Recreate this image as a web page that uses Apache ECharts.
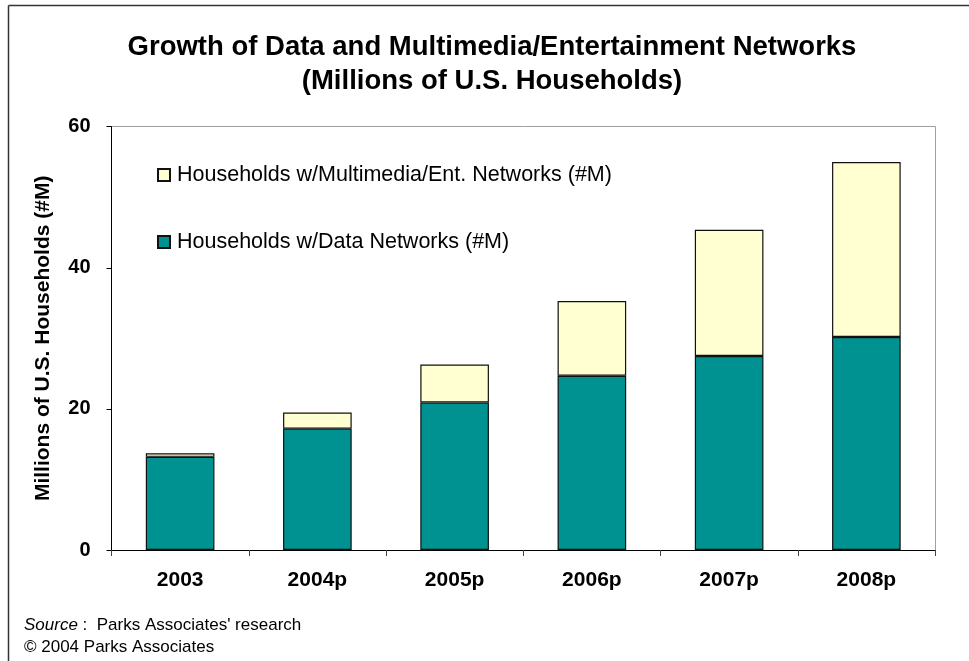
<!DOCTYPE html>
<html>
<head>
<meta charset="utf-8">
<script src="https://cdn.jsdelivr.net/npm/echarts@6/dist/echarts.min.js"></script>
<style>
  html, body { margin: 0; padding: 0; background: #fff; }
  #chart { width: 969px; height: 661px; }
</style>
</head>
<body>
<div id="chart"></div>
<script>
// values (millions of households)
var years = ['2003', '2004p', '2005p', '2006p', '2007p', '2008p'];
var dataNetworks = [13.2, 17.2, 20.9, 24.7, 27.5, 30.2];
var multimediaNetworks = [0.5, 2.3, 5.4, 10.6, 17.9, 24.8];
var yTicks = [0, 20, 40, 60];

var font = 'Liberation Sans, Arial, sans-serif';
var chart = echarts.init(document.getElementById('chart'));

chart.setOption({
  animation: false,
  backgroundColor: '#fff',
  title: {
    text: 'Growth of Data and Multimedia/Entertainment Networks\n(Millions of U.S. Households)',
    left: 487,
    top: 25,
    textAlign: 'center',
    textStyle: { fontFamily: font, fontSize: 27.5, fontWeight: 'bold', color: '#000', lineHeight: 34 }
  },
  legend: {
    orient: 'vertical',
    left: 152,
    top: 159,
    itemGap: 45,
    itemWidth: 12,
    itemHeight: 12,
    icon: 'rect',
    data: ['Households w/Multimedia/Ent. Networks (#M)', 'Households w/Data Networks (#M)'],
    textStyle: { fontFamily: font, fontSize: 21.5, color: '#000', padding: [0, 0, 0, 2] }
  },
  grid: { left: 111.5, right: 34, top: 126.7, bottom: 111, containLabel: false },
  xAxis: {
    type: 'category',
    data: years,
    axisLine: { lineStyle: { color: '#000', width: 1 } },
    axisTick: { show: true, length: 6, lineStyle: { color: '#444' } },
    axisLabel: { fontFamily: font, fontSize: 21, fontWeight: 'bold', color: '#000', margin: 20 }
  },
  yAxis: {
    type: 'value',
    min: yTicks[0],
    max: yTicks[yTicks.length - 1],
    interval: 20,
    name: 'Millions of U.S. Households (#M)',
    nameLocation: 'middle',
    nameGap: 58,
    nameTextStyle: { fontFamily: font, fontSize: 21, fontWeight: 'bold', color: '#000' },
    axisLine: { show: true, lineStyle: { color: '#000', width: 1 } },
    axisTick: { show: true, length: 5, lineStyle: { color: '#000' } },
    axisLabel: { fontFamily: font, fontSize: 20, fontWeight: 'bold', color: '#000', margin: 21 },
    splitLine: { show: false }
  },
  series: [
    {
      name: 'Households w/Data Networks (#M)',
      type: 'bar',
      stack: 'total',
      barWidth: '50%',
      data: dataNetworks,
      itemStyle: { color: '#009191', borderColor: '#111', borderWidth: 1.2 }
    },
    {
      name: 'Households w/Multimedia/Ent. Networks (#M)',
      type: 'bar',
      stack: 'total',
      barWidth: '50%',
      data: multimediaNetworks,
      itemStyle: { color: '#ffffd2', borderColor: '#111', borderWidth: 1.2 }
    }
  ],
  graphic: [
    // outer frame (left and top edges)
    { type: 'line', shape: { x1: 8.5, y1: 5.5, x2: 8.5, y2: 661 }, style: { stroke: '#333', lineWidth: 1.5 } },
    { type: 'line', shape: { x1: 8.5, y1: 5.5, x2: 969, y2: 5.5 }, style: { stroke: '#333', lineWidth: 1.5 } },
    // plot area top and right borders
    { type: 'line', shape: { x1: 111.5, y1: 126.5, x2: 935.5, y2: 126.5 }, style: { stroke: '#a0a0a0', lineWidth: 1 } },
    { type: 'line', shape: { x1: 935.5, y1: 126.5, x2: 935.5, y2: 550 }, style: { stroke: '#a0a0a0', lineWidth: 1 } },
    {
      type: 'text', left: 24, top: 617,
      style: {
        text: '{i|Source} :  Parks Associates\' research',
        font: '17px ' + font, fill: '#000',
        rich: { i: { fontStyle: 'italic', fontSize: 17, fontFamily: font } }
      }
    },
    {
      type: 'text', left: 24, top: 639,
      style: { text: '© 2004 Parks Associates', font: '17px ' + font, fill: '#000' }
    }
  ]
});
</script>
</body>
</html>
